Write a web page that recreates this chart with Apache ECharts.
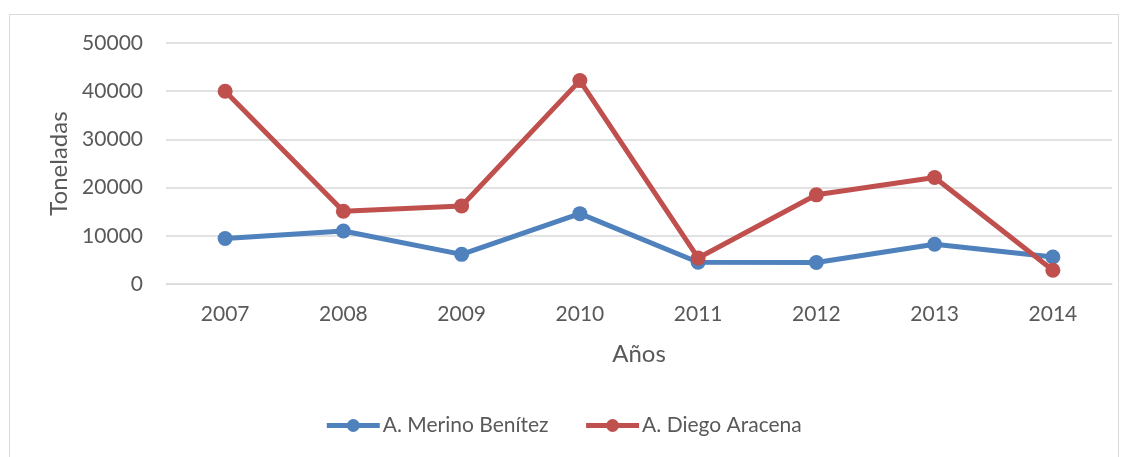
<!DOCTYPE html>
<html>
<head>
<meta charset="utf-8">
<script src="https://cdn.jsdelivr.net/npm/echarts@6/dist/echarts.min.js"></script>
<style>
html,body{margin:0;padding:0;background:#fff;}
#c{width:1126px;height:457px;}
</style>
</head>
<body>
<div id="c"></div>
<script>
const years = ['2007','2008','2009','2010','2011','2012','2013','2014'];
const merino = [9450, 11000, 6150, 14600, 4500, 4450, 8250, 5600];
const diego = [40000, 15100, 16200, 42200, 5400, 18500, 22100, 2850];
const seriesNames = ['A. Merino Benítez', 'A. Diego Aracena'];
const yTicks = { min: 0, max: 50000, interval: 10000 };

const FONT = 'Lato';
const TXT = '#595959';
const chart = echarts.init(document.getElementById('c'), null, {renderer: 'canvas'});
chart.setOption({
  backgroundColor: '#fff',
  animation: false,
  textStyle: {fontFamily: FONT},
  graphic: [{
    type: 'rect', shape: {x: 9.5, y: 14.5, width: 1109, height: 460},
    style: {fill: 'none', stroke: '#d9d9d9', lineWidth: 1}, silent: true
  }],
  grid: {left: 166, right: 14, top: 43, bottom: 173, containLabel: false},
  legend: {
    bottom: 16, left: 'center',
    itemWidth: 53, itemHeight: 16, itemGap: 35,
    lineStyle: {width: 5},
    textStyle: {fontFamily: FONT, fontSize: 21, color: TXT, padding: [0,0,0,-2]},
    data: seriesNames
  },
  xAxis: {
    type: 'category', data: years, boundaryGap: true,
    name: 'Años', nameLocation: 'middle', nameGap: 58,
    nameTextStyle: {fontFamily: FONT, fontSize: 24, color: TXT},
    axisLine: {show: true, lineStyle: {color: '#d9d9d9', width: 1}},
    axisTick: {show: false},
    axisLabel: {fontFamily: FONT, fontSize: 21, color: TXT, margin: 20}
  },
  yAxis: {
    type: 'value', min: yTicks.min, max: yTicks.max, interval: yTicks.interval,
    name: 'Toneladas', nameLocation: 'middle', nameGap: 95,
    nameTextStyle: {fontFamily: FONT, fontSize: 24, color: TXT},
    axisLine: {show: false}, axisTick: {show: false},
    axisLabel: {fontFamily: FONT, fontSize: 21, color: TXT, margin: 23,
                formatter: v => String(v)},
    splitLine: {lineStyle: {color: '#d9d9d9', width: 1.5}}
  },
  series: [
    {name: seriesNames[0], type: 'line', data: merino, color: '#4F81BD',
     symbol: 'circle', symbolSize: 15, lineStyle: {width: 5, color: '#4F81BD'},
     itemStyle: {color: '#4F81BD'}},
    {name: seriesNames[1], type: 'line', data: diego, color: '#C0504D',
     symbol: 'circle', symbolSize: 15, lineStyle: {width: 5, color: '#C0504D'},
     itemStyle: {color: '#C0504D'}}
  ]
});
</script>
</body>
</html>
